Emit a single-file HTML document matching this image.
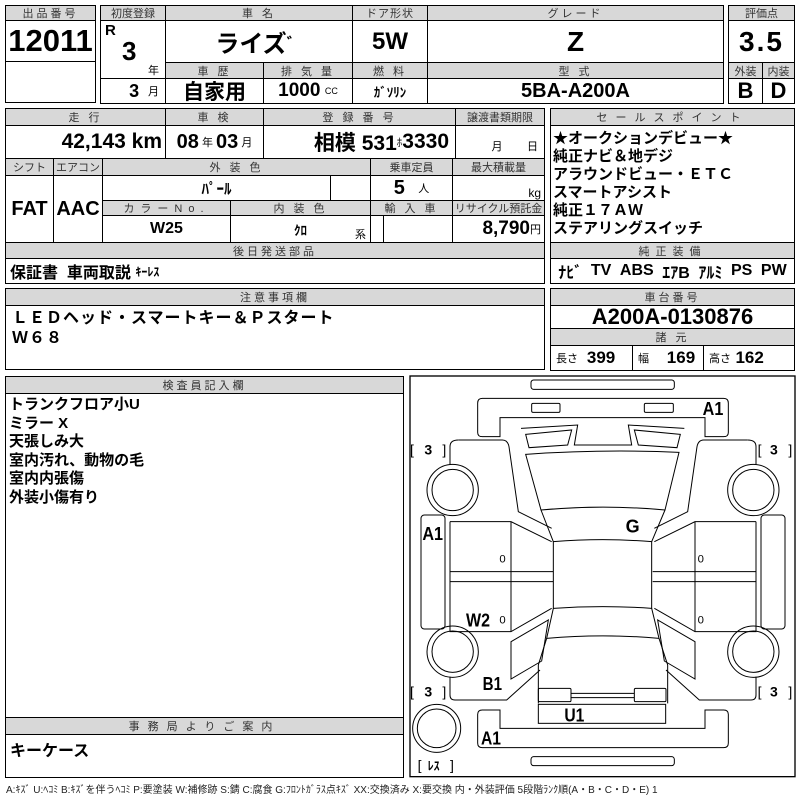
<!DOCTYPE html>
<html><head><meta charset="utf-8">
<style>
*{margin:0;padding:0;box-sizing:border-box}
body{width:800px;height:800px;background:#fff;position:relative;overflow:hidden;font-family:"Liberation Sans","Noto Sans CJK JP",sans-serif;color:#000}
.b{position:absolute;border:1.5px solid #000}
.c{position:absolute;border:1px solid #000;display:flex;align-items:center;justify-content:center;white-space:nowrap;overflow:hidden}
.h{background:#d8d8d8;font-size:11px;color:#333;letter-spacing:3px}
.n{font-family:"Liberation Sans Narrow","Liberation Sans","Noto Sans CJK JP",sans-serif;font-weight:bold}
.t{position:absolute;white-space:nowrap}
small{font-size:11px;font-weight:normal}
</style></head><body>

<div class="c h" style="left:5px;top:5px;width:91px;height:16px">出品番号</div>
<div class="c n" style="left:5px;top:20px;width:91px;height:42px;font-size:31px">12011</div>
<div class="c" style="left:5px;top:61px;width:91px;height:42px"></div>

<div class="c h" style="left:100px;top:5px;width:66px;height:16px;letter-spacing:0">初度登録</div>
<div class="c h" style="left:165px;top:5px;width:188px;height:16px">車 名</div>
<div class="c h" style="left:352px;top:5px;width:76px;height:16px;letter-spacing:1px">ドア形状</div>
<div class="c h" style="left:427px;top:5px;width:297px;height:16px">グレード</div>
<div class="c" style="left:100px;top:20px;width:66px;height:59px"></div>
<div class="t n" style="left:105px;top:22px;font-size:15px">R</div>
<div class="t n" style="left:122px;top:36px;font-size:26px">3</div>
<div class="t" style="left:148px;top:62px;font-size:11px">年</div>
<div class="c" style="left:100px;top:78px;width:66px;height:26px;justify-content:flex-end;padding-right:6px"><span class="n" style="font-size:18px">3</span>&nbsp;&nbsp;<small>月</small></div>
<div class="c n" style="left:165px;top:20px;width:188px;height:43px;font-size:24px">ライズ<span style="font-size:16px;vertical-align:top">゛</span></div>
<div class="c n" style="left:352px;top:20px;width:76px;height:43px;font-size:24px">5W</div>
<div class="c n" style="left:427px;top:20px;width:297px;height:43px;font-size:28px">Z</div>
<div class="c h" style="left:165px;top:62px;width:99px;height:17px">車 歴</div>
<div class="c h" style="left:263px;top:62px;width:90px;height:17px">排 気 量</div>
<div class="c h" style="left:352px;top:62px;width:76px;height:17px">燃 料</div>
<div class="c h" style="left:427px;top:62px;width:297px;height:17px">型 式</div>
<div class="c" style="left:165px;top:78px;width:99px;height:26px;font-size:21px;font-weight:bold">自家用</div>
<div class="c" style="left:263px;top:78px;width:90px;height:26px"><span class="n" style="font-size:19px">1000</span>&nbsp;<small style="font-size:9px">CC</small></div>
<div class="c" style="left:352px;top:78px;width:76px;height:26px;font-size:13px;font-weight:bold">ｶﾞｿﾘﾝ</div>
<div class="c n" style="left:427px;top:78px;width:297px;height:26px;font-size:20px">5BA-A200A</div>

<div class="c h" style="left:728px;top:5px;width:67px;height:16px;letter-spacing:0">評価点</div>
<div class="c n" style="left:728px;top:20px;width:67px;height:43px;font-size:28px;letter-spacing:2px">3.5</div>
<div class="c h" style="left:728px;top:62px;width:35px;height:17px;letter-spacing:0">外装</div>
<div class="c h" style="left:762px;top:62px;width:33px;height:17px;letter-spacing:0">内装</div>
<div class="c n" style="left:728px;top:78px;width:35px;height:26px;font-size:22px">B</div>
<div class="c n" style="left:762px;top:78px;width:33px;height:26px;font-size:22px">D</div>

<div class="c h" style="left:5px;top:108px;width:161px;height:18px">走 行</div>
<div class="c h" style="left:165px;top:108px;width:99px;height:18px">車 検</div>
<div class="c h" style="left:263px;top:108px;width:193px;height:18px">登 録 番 号</div>
<div class="c h" style="left:455px;top:108px;width:90px;height:18px;letter-spacing:0">譲渡書類期限</div>
<div class="c" style="left:5px;top:125px;width:161px;height:34px;justify-content:flex-end;padding-right:3px"><span class="n" style="font-size:21px">42,143 km</span></div>
<div class="c" style="left:165px;top:125px;width:99px;height:34px"><span class="n" style="font-size:20px">08</span><small>&nbsp;年&nbsp;</small><span class="n" style="font-size:20px">03</span><small>&nbsp;月</small></div>
<div class="c" style="left:263px;top:125px;width:193px;height:34px;justify-content:flex-end;padding-right:6px"><span class="n" style="font-size:21px">相模 531</span><small>ﾎ</small><span class="n" style="font-size:21px">3330</span></div>
<div class="c" style="left:455px;top:125px;width:90px;height:34px;font-size:11px;align-items:flex-end;padding-bottom:4px;justify-content:flex-end;padding-right:6px">月&nbsp;&nbsp;&nbsp;&nbsp;&nbsp;&nbsp;&nbsp;&nbsp;日</div>

<div class="c h" style="left:5px;top:158px;width:49px;height:18px;letter-spacing:0">シフト</div>
<div class="c h" style="left:53px;top:158px;width:50px;height:18px;letter-spacing:0">エアコン</div>
<div class="c h" style="left:102px;top:158px;width:269px;height:18px">外 装 色</div>
<div class="c h" style="left:370px;top:158px;width:83px;height:18px;letter-spacing:0">乗車定員</div>
<div class="c h" style="left:452px;top:158px;width:93px;height:18px;letter-spacing:0">最大積載量</div>
<div class="c n" style="left:5px;top:175px;width:49px;height:68px;font-size:20px">FAT</div>
<div class="c n" style="left:53px;top:175px;width:50px;height:68px;font-size:20px">AAC</div>
<div class="c" style="left:102px;top:175px;width:229px;height:26px;font-size:15px;font-weight:bold">ﾊﾟｰﾙ</div>
<div class="c" style="left:330px;top:175px;width:41px;height:26px"></div>
<div class="c" style="left:370px;top:175px;width:83px;height:26px"><span class="n" style="font-size:20px">5</span>&nbsp;&nbsp;&nbsp;<small>人</small></div>
<div class="c" style="left:452px;top:175px;width:93px;height:26px;justify-content:flex-end;padding-right:3px;font-size:12px;align-items:flex-end">kg</div>
<div class="c h" style="left:102px;top:200px;width:129px;height:16px;letter-spacing:6px">カラーNo.</div>
<div class="c h" style="left:230px;top:200px;width:141px;height:16px">内 装 色</div>
<div class="c h" style="left:370px;top:200px;width:83px;height:16px">輸 入 車</div>
<div class="c h" style="left:452px;top:200px;width:93px;height:16px;letter-spacing:0">リサイクル預託金</div>
<div class="c n" style="left:102px;top:215px;width:129px;height:28px;font-size:16px">W25</div>
<div class="c" style="left:230px;top:215px;width:141px;height:28px;font-size:13px;font-weight:bold">ｸﾛ</div>
<div class="t" style="left:355px;top:226px;font-size:11px">系</div>
<div class="c" style="left:370px;top:215px;width:14px;height:28px"></div>
<div class="c" style="left:383px;top:215px;width:70px;height:28px"></div>
<div class="c" style="left:452px;top:215px;width:93px;height:28px;justify-content:flex-end;padding-right:3px"><span class="n" style="font-size:19px">8,790</span><small>円</small></div>
<div class="c h" style="left:5px;top:242px;width:540px;height:17px">後日発送部品</div>
<div class="c" style="left:5px;top:258px;width:540px;height:26px;justify-content:flex-start;padding-left:4px;font-size:16px;font-weight:bold">保証書&nbsp; 車両取説&nbsp;<span style="font-size:12px">ｷｰﾚｽ</span></div>

<div class="c h" style="left:550px;top:108px;width:245px;height:18px;letter-spacing:8px">セールスポイント</div>
<div class="c" style="left:550px;top:125px;width:245px;height:118px;align-items:flex-start;justify-content:flex-start;padding:4px 0 0 2px;font-size:15px;font-weight:bold;line-height:18px;white-space:pre">★オークションデビュー★
純正ナビ＆地デジ
アラウンドビュー・ＥＴＣ
スマートアシスト
純正１７ＡＷ
ステアリングスイッチ</div>
<div class="c h" style="left:550px;top:242px;width:245px;height:17px;letter-spacing:6px">純正装備</div>
<div class="c n" style="left:550px;top:258px;width:245px;height:26px;font-size:16px;justify-content:space-around;padding:0 3px"><span>ﾅﾋﾞ</span><span>TV</span><span>ABS</span><span>ｴｱB</span><span>ｱﾙﾐ</span><span>PS</span><span>PW</span></div>

<div class="c h" style="left:5px;top:288px;width:540px;height:18px">注意事項欄</div>
<div class="c" style="left:5px;top:305px;width:540px;height:65px;align-items:flex-start;justify-content:flex-start;padding:3px 0 0 6px;font-size:16px;font-weight:bold;line-height:20px;white-space:pre;letter-spacing:1px">ＬＥＤヘッド・スマートキー＆Ｐスタート
Ｗ６８</div>
<div class="c h" style="left:550px;top:288px;width:245px;height:18px">車台番号</div>
<div class="c n" style="left:550px;top:305px;width:245px;height:24px;font-size:22px">A200A-0130876</div>
<div class="c h" style="left:550px;top:328px;width:245px;height:18px">諸 元</div>
<div class="c" style="left:550px;top:345px;width:83px;height:26px;justify-content:flex-start;padding-left:5px"><small>長さ</small>&nbsp;&nbsp;<span class="n" style="font-size:17px">399</span></div>
<div class="c" style="left:632px;top:345px;width:72px;height:26px;justify-content:flex-start;padding-left:5px"><small>幅</small>&nbsp;&nbsp;&nbsp;&nbsp;<span class="n" style="font-size:17px">169</span></div>
<div class="c" style="left:703px;top:345px;width:92px;height:26px;justify-content:flex-start;padding-left:5px"><small>高さ</small>&nbsp;<span class="n" style="font-size:17px">162</span></div>

<div class="b" style="left:5px;top:376px;width:399px;height:402px"></div>
<div class="c h" style="left:5px;top:376px;width:399px;height:18px">検査員記入欄</div>
<div class="t" style="left:9px;top:396px;font-size:15px;font-weight:bold;line-height:18.5px;white-space:pre">トランクフロア小U
ミラー X
天張しみ大
室内汚れ、動物の毛
室内内張傷
外装小傷有り</div>
<div class="c h" style="left:5px;top:717px;width:399px;height:18px;letter-spacing:8px">事務局よりご案内</div>
<div class="t" style="left:10px;top:737px;font-size:16px;font-weight:bold">キーケース</div>

<svg style="position:absolute;left:405px;top:375px" width="395" height="425" viewBox="0 0 1185 1275">
<g fill="none" stroke="#000" stroke-width="3">
<rect x="15" y="3" width="1155" height="1202" stroke-width="4"/>
<rect x="378" y="15" width="430" height="28" rx="8"/>
<rect x="378" y="1145" width="430" height="27" rx="8"/>
<path d="M232,70 H956 Q970,70 970,84 V172 Q970,185 956,185 H900 V128 H285 V185 H232 Q218,185 218,172 V84 Q218,70 232,70 Z"/>
<path d="M232,1118 H956 Q970,1118 970,1104 V1018 Q970,1005 956,1005 H900 V1060 H285 V1005 H232 Q218,1005 218,1018 V1104 Q218,1118 232,1118 Z"/>
<rect x="380" y="85" width="85" height="27" rx="4"/>
<rect x="718" y="85" width="87" height="27" rx="4"/>
<path d="M348,160 L518,150 L508,210 L680,210 L670,150 L838,160"/>
<path d="M362,178 L500,165 L488,210 L372,218 Z"/>
<path d="M826,178 L688,165 L700,210 L816,218 Z"/>
<path d="M362,238 Q594,222 822,232 L780,405 Q594,388 408,405 Z"/>
<path d="M408,405 L445,500 M780,405 L740,500"/>
<path d="M445,500 Q594,488 740,500 V700 Q594,690 445,700 Z"/>
<path d="M445,700 L425,790 L400,870 V985 M740,700 L762,790 L788,870 V985"/>
<path d="M425,790 Q594,775 762,790"/>
<rect x="400" y="940" width="98" height="40" rx="4"/>
<rect x="688" y="940" width="95" height="40" rx="4"/>
<path d="M498,955 H688 M498,968 H688"/>
<rect x="400" y="988" width="382" height="57"/>
<g id="L">
<path d="M160,195 H292 Q308,195 312,215 L340,410 L440,460"/>
<path d="M135,215 Q135,195 160,195 M135,215 V268"/>
<circle cx="143" cy="345" r="77"/><circle cx="143" cy="345" r="62"/>
<rect x="48" y="420" width="72" height="342" rx="10"/>
<path d="M135,440 H318 L440,500 M135,440 V770 H318 L440,700 M318,440 V770 M135,590 H445 M135,620 H445"/>
<circle cx="143" cy="830" r="77"/><circle cx="143" cy="830" r="62"/>
<path d="M318,800 L430,735 L410,858 L318,912 Z"/>
<path d="M135,905 V960 Q135,975 150,975 H305 L405,885"/>
</g>
<use href="#L" transform="translate(1188,0) scale(-1,1)"/>
<circle cx="95" cy="1060" r="72"/><circle cx="95" cy="1060" r="58"/>
</g>
<g font-family="Liberation Sans Narrow, Liberation Sans, sans-serif" font-weight="bold" font-size="54" fill="#000">
<text x="893" y="120" textLength="62" lengthAdjust="spacingAndGlyphs">A1</text>
<text x="52" y="495" textLength="62" lengthAdjust="spacingAndGlyphs">A1</text>
<text x="662" y="472">G</text>
<text x="183" y="755" textLength="72" lengthAdjust="spacingAndGlyphs">W2</text>
<text x="233" y="945" textLength="58" lengthAdjust="spacingAndGlyphs">B1</text>
<text x="478" y="1040" textLength="60" lengthAdjust="spacingAndGlyphs">U1</text>
<text x="228" y="1108" textLength="60" lengthAdjust="spacingAndGlyphs">A1</text>
</g>
<g font-family="Liberation Sans, Noto Sans CJK JP, sans-serif" font-size="42" fill="#000">
<text x="15" y="238">[</text><text x="58" y="238" font-weight="bold">3</text><text x="112" y="238">]</text>
<text x="1058" y="238">[</text><text x="1095" y="238" font-weight="bold">3</text><text x="1150" y="238">]</text>
<text x="15" y="965">[</text><text x="58" y="965" font-weight="bold">3</text><text x="112" y="965">]</text>
<text x="1058" y="965">[</text><text x="1095" y="965" font-weight="bold">3</text><text x="1150" y="965">]</text>
<text x="38" y="1185">[</text><text x="68" y="1185" font-weight="bold" font-size="36">ﾚｽ</text><text x="135" y="1185">]</text>
</g>
<g font-family="Liberation Sans Narrow, Liberation Sans, sans-serif" font-size="34" fill="#000">
<text x="283" y="562">0</text><text x="283" y="745">0</text>
<text x="878" y="562">0</text><text x="878" y="745">0</text>
</g>
</svg>

<div class="t" style="left:6px;top:781px;font-size:10px;color:#222">A:ｷｽﾞ U:ﾍｺﾐ B:ｷｽﾞを伴うﾍｺﾐ P:要塗装 W:補修跡 S:錆 C:腐食 G:ﾌﾛﾝﾄｶﾞﾗｽ点ｷｽﾞ XX:交換済み X:要交換 内・外装評価 5段階ﾗﾝｸ順(A・B・C・D・E) 1</div>
</body></html>
